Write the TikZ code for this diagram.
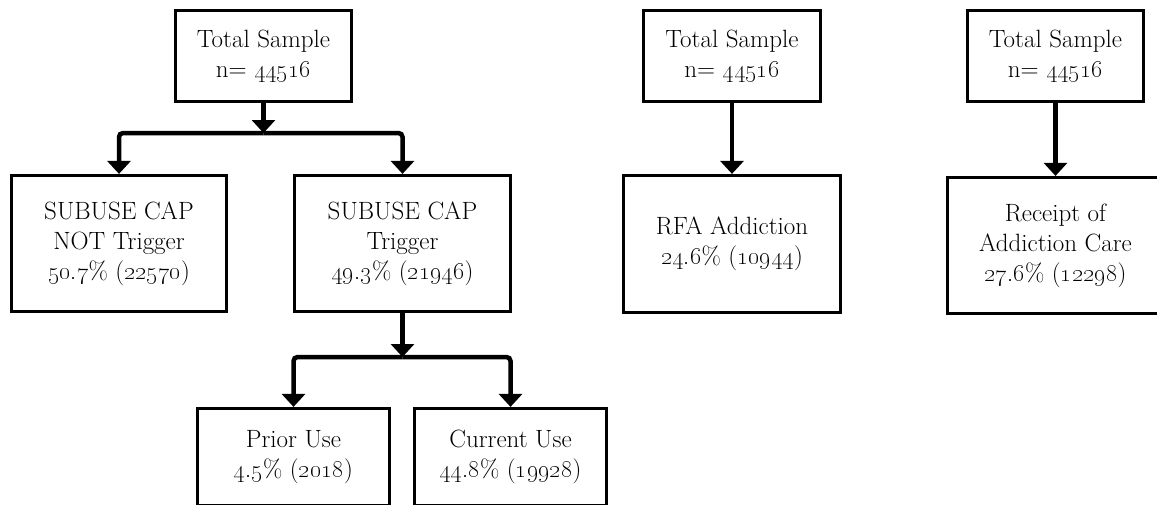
\documentclass[tikz,border=0pt]{standalone}
\usetikzlibrary{arrows.meta}
\tikzset{
  box/.style={draw, line width=3.2pt, align=center, inner sep=0pt,
    font=\fontsize{25}{30}\selectfont},
  flow/.style={line width=4.5pt, -{Triangle[width=23pt,length=13pt]}},
}
\newcommand{\osn}[1]{\oldstylenums{#1}}

\begin{document}
\begin{tikzpicture}[x=1pt,y=-1pt]
        \useasboundingbox (0,0) rectangle (1157,504);
        \clip (0,0) rectangle (1157,504);

        % Tree 1: substance use CAP
        \node[box, minimum width=176pt, minimum height=91pt] (total1) at (263.5,56)
          {Total Sample\\n= \osn{44516}};
        \node[box, minimum width=215pt, minimum height=136pt] (notrig) at (119,243.5)
          {SUBUSE CAP\\NOT Trigger\\\osn{50.7}\% (\osn{22570})};
        \node[box, minimum width=216pt, minimum height=136pt] (trig) at (402.5,243.5)
          {SUBUSE CAP\\Trigger\\\osn{49.3}\% (\osn{21946})};
        \node[box, minimum width=192pt, minimum height=97pt] (prior) at (293.5,457)
          {Prior Use\\\osn{4.5}\% (\osn{2018})};
        \node[box, minimum width=192pt, minimum height=97pt] (current) at (510.5,457)
          {Current Use\\\osn{44.8}\% (\osn{19928})};
        \coordinate (split1) at (263.5,133);
        \coordinate (split2) at (402.5,357);

        \draw[flow] (total1) -- (split1);
        \draw[flow, rounded corners=4pt] (split1) -| (notrig);
        \draw[flow, rounded corners=4pt] (split1) -| (trig);
        \draw[flow] (trig) -- (split2);
        \draw[flow, rounded corners=4pt] (split2) -| (prior);
        \draw[flow, rounded corners=4pt] (split2) -| (current);

        % Tree 2: RFA addiction
        \node[box, minimum width=177pt, minimum height=91pt] (total2) at (732,56)
          {Total Sample\\n= \osn{44516}};
        \node[box, minimum width=217pt, minimum height=137pt] (rfa) at (732,244)
          {RFA Addiction\\\osn{24.6}\% (\osn{10944})};
        \draw[flow] (total2) -- (rfa);

        % Tree 3: addiction care
        \node[box, minimum width=176pt, minimum height=91pt] (total3) at (1055.5,56)
          {Total Sample\\n= \osn{44516}};
        \node[box, minimum width=216pt, minimum height=136pt] (care) at (1055.5,245.5)
          {Receipt of\\Addiction Care\\\osn{27.6}\% (\osn{12298})};
        \draw[flow] (total3) -- (care);
      \end{tikzpicture}
\end{document}
